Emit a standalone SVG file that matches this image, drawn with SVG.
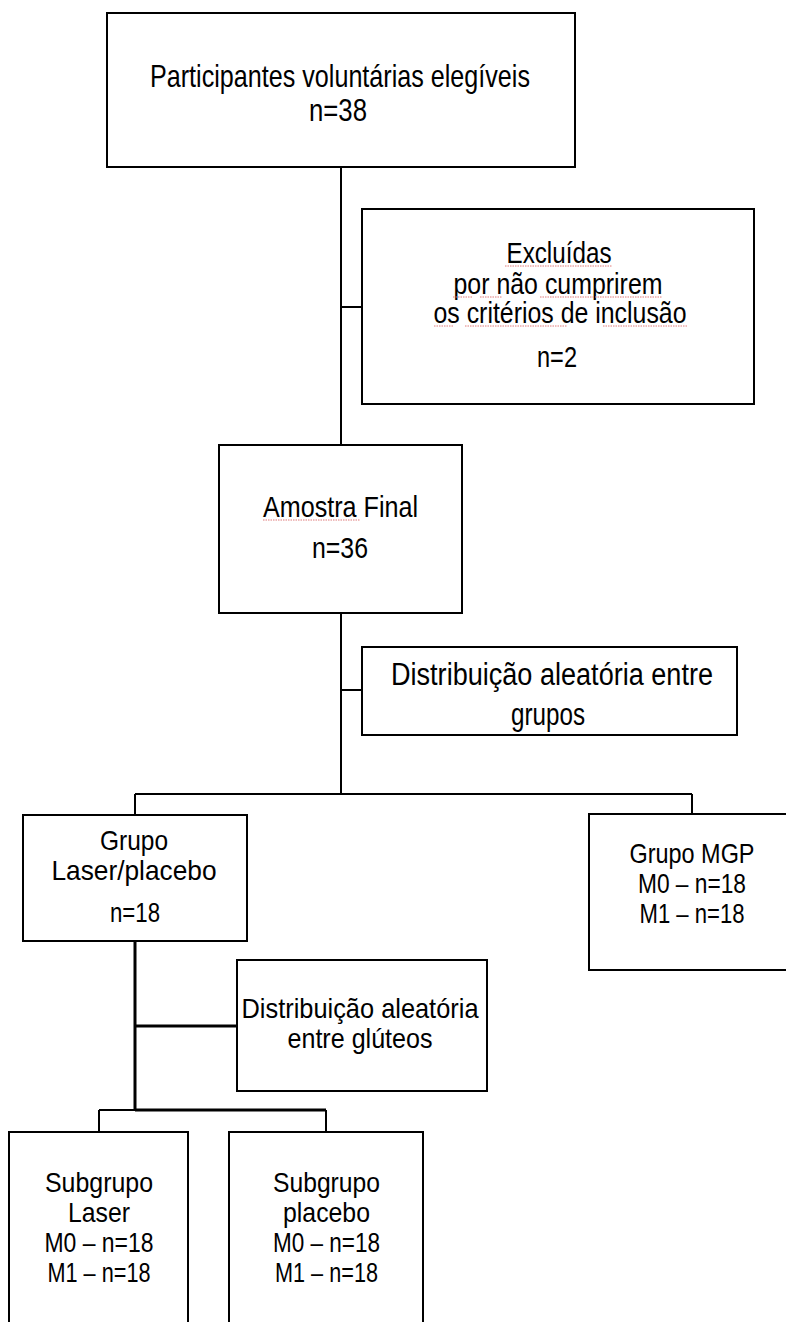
<svg xmlns="http://www.w3.org/2000/svg" width="786" height="1322" viewBox="0 0 786 1322">
<style>
.box{fill:#fff;stroke:#000;stroke-width:2}
.ln{fill:none;stroke:#000;stroke-width:2}
.lt{fill:none;stroke:#000;stroke-width:3}
.t{font-family:"Liberation Sans",Arial,sans-serif;fill:#000;text-anchor:middle}
.sq{fill:none;stroke:#e07a7a;stroke-width:1;stroke-dasharray:1.5 1}
</style>
<rect width="786" height="1322" fill="#fff"/>
<g id="connectors">
<path class="ln" d="M341,167V445M341,307H362M341,613V794M341,690H362M135,794H692M135,794V815M692,794V814M99,1110H135M99,1110V1132M326,1110V1132"/>
<path class="lt" d="M135,941V1110M135,1026H237M135,1110H326"/>
</g>
<g id="n-participantes">
<rect class="box" x="107" y="13" width="468" height="154"/>
<text class="t" font-size="32" x="340" y="87" textLength="380" lengthAdjust="spacingAndGlyphs">Participantes voluntárias elegíveis</text>
<text class="t" font-size="32" x="338" y="121" textLength="58" lengthAdjust="spacingAndGlyphs">n=38</text>
</g>
<g id="n-excluidas">
<rect class="box" x="362" y="209" width="392" height="195"/>
<text class="t" font-size="29" x="559" y="263" textLength="105" lengthAdjust="spacingAndGlyphs">Excluídas</text>
<text class="t" font-size="29" x="558" y="294" textLength="209" lengthAdjust="spacingAndGlyphs">por não cumprirem</text>
<text class="t" font-size="29" x="560" y="323" textLength="253" lengthAdjust="spacingAndGlyphs">os critérios de inclusão</text>
<text class="t" font-size="29" x="557" y="367" textLength="40" lengthAdjust="spacingAndGlyphs">n=2</text>
<path class="sq" d="M505,266H612M453,297H473M480,297H502M540,297H662M434,326H453M465,326H567M603,326H687"/>
</g>
<g id="n-amostra">
<rect class="box" x="219" y="445" width="243" height="168"/>
<text class="t" font-size="30" x="340.5" y="517" textLength="155" lengthAdjust="spacingAndGlyphs">Amostra Final</text>
<text class="t" font-size="30" x="340" y="558" textLength="56" lengthAdjust="spacingAndGlyphs">n=36</text>
<path class="sq" d="M263,520H360"/>
</g>
<g id="n-distribuicao-grupos">
<rect class="box" x="362" y="647" width="375" height="88"/>
<text class="t" font-size="31" x="552" y="685" textLength="322" lengthAdjust="spacingAndGlyphs">Distribuição aleatória entre</text>
<text class="t" font-size="31" x="548" y="725" textLength="74" lengthAdjust="spacingAndGlyphs">grupos</text>
</g>
<g id="n-grupo-laser">
<rect class="box" x="23" y="815" width="224" height="126"/>
<text class="t" font-size="28" x="134" y="850" textLength="68" lengthAdjust="spacingAndGlyphs">Grupo</text>
<text class="t" font-size="28" x="134" y="880" textLength="165" lengthAdjust="spacingAndGlyphs">Laser/placebo</text>
<text class="t" font-size="28" x="135" y="922" textLength="50" lengthAdjust="spacingAndGlyphs">n=18</text>
</g>
<g id="n-grupo-mgp">
<rect class="box" x="589" y="814" width="202" height="156"/>
<text class="t" font-size="28" x="692" y="863" textLength="125" lengthAdjust="spacingAndGlyphs">Grupo MGP</text>
<text class="t" font-size="28" x="692" y="893" textLength="108" lengthAdjust="spacingAndGlyphs">M0 – n=18</text>
<text class="t" font-size="28" x="692" y="923" textLength="105" lengthAdjust="spacingAndGlyphs">M1 – n=18</text>
</g>
<g id="n-distribuicao-gluteos">
<rect class="box" x="237" y="960" width="250" height="131"/>
<text class="t" font-size="28" x="360" y="1018" textLength="237" lengthAdjust="spacingAndGlyphs">Distribuição aleatória</text>
<text class="t" font-size="28" x="360" y="1048" textLength="145" lengthAdjust="spacingAndGlyphs">entre glúteos</text>
</g>
<g id="n-subgrupo-laser">
<rect class="box" x="9" y="1132" width="179" height="200"/>
<text class="t" font-size="28" x="99" y="1192" textLength="108" lengthAdjust="spacingAndGlyphs">Subgrupo</text>
<text class="t" font-size="28" x="99" y="1222" textLength="62" lengthAdjust="spacingAndGlyphs">Laser</text>
<text class="t" font-size="28" x="99" y="1252" textLength="109" lengthAdjust="spacingAndGlyphs">M0 – n=18</text>
<text class="t" font-size="28" x="99" y="1282" textLength="103" lengthAdjust="spacingAndGlyphs">M1 – n=18</text>
</g>
<g id="n-subgrupo-placebo">
<rect class="box" x="229" y="1132" width="194" height="200"/>
<text class="t" font-size="28" x="326.5" y="1192" textLength="107" lengthAdjust="spacingAndGlyphs">Subgrupo</text>
<text class="t" font-size="28" x="326.5" y="1222" textLength="87" lengthAdjust="spacingAndGlyphs">placebo</text>
<text class="t" font-size="28" x="326.5" y="1252" textLength="107" lengthAdjust="spacingAndGlyphs">M0 – n=18</text>
<text class="t" font-size="28" x="326.5" y="1282" textLength="103" lengthAdjust="spacingAndGlyphs">M1 – n=18</text>
</g>
</svg>
